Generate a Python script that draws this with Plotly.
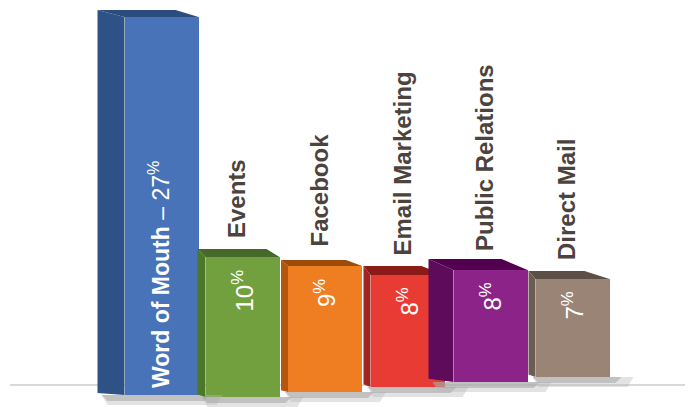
import plotly.graph_objects as go

# Marketing channel shares (%)
channels = ["Word of Mouth", "Events", "Facebook", "Email Marketing", "Public Relations", "Direct Mail"]
shares = [27, 10, 9, 8, 8, 7]

# Face colours per channel: front, side, top
front_colors = ["#4873b8", "#73a03f", "#ef7e22", "#e83b34", "#8b2388", "#998475"]
side_colors = ["#2e5186", "#4b772a", "#b5560f", "#a2241f", "#5f0b5b", "#6c5d52"]
top_colors = ["#2b4c7d", "#46692a", "#9c4b0b", "#8c1b17", "#52004f", "#5c4f46"]

# ---- drawing geometry (screen-like units) ----
W, H = 689, 407
PX = 14.0                       # pixels per percentage point
ZERO_PX = 385                   # baseline pixel row
centers = [161.5, 242.5, 325, 407.5, 490.5, 572.5]
bar_w = 74
bottom_px = [395, 397, 392, 387, 382, 377]
depth_l = [27, 8, 7, 7, 25, 7]      # back-left horizontal offset
depth_r = [23, 13, 16, 23, 26, 25]  # back-right horizontal offset
depth_up = [7, 8, 6, 9, 11, 8]      # vertical rise of the back edge

bases = [(ZERO_PX - b) / PX for b in bottom_px]
tops = [b + v for b, v in zip(bases, shares)]

fig = go.Figure()

# front faces
fig.add_trace(go.Bar(
    x=centers, y=shares, base=bases, width=bar_w,
    marker=dict(color=front_colors, line=dict(width=0)),
    hoverinfo="skip", showlegend=False,
))

for i in range(len(shares)):
    xl = centers[i] - bar_w / 2
    xr = centers[i] + bar_w / 2
    t, b = tops[i], bases[i]
    up = depth_up[i] / PX
    # soft floor shadow
    for spread, drop, col in [(24, 10, "rgba(185,185,185,0.4)"), (12, 6, "rgba(160,160,160,0.5)")]:
        fig.add_trace(go.Scatter(
            x=[xl - depth_l[i] + 4, xr + spread, xr + spread - 6, xl - depth_l[i] + 10],
            y=[b, b, b - drop / PX, b - drop / PX],
            fill="toself", fillcolor=col, mode="lines", line=dict(width=0),
            hoverinfo="skip", showlegend=False,
        ))
    # left side face
    fig.add_trace(go.Scatter(
        x=[xl, xl - depth_l[i], xl - depth_l[i], xl],
        y=[t, t + up, b + up * 0.3, b],
        fill="toself", fillcolor=side_colors[i], mode="lines", line=dict(width=0),
        hoverinfo="skip", showlegend=False,
    ))
    # top face
    fig.add_trace(go.Scatter(
        x=[xl, xr, xr - depth_r[i], xl - depth_l[i]],
        y=[t, t, t + up, t + up],
        fill="toself", fillcolor=top_colors[i], mode="lines", line=dict(width=0),
        hoverinfo="skip", showlegend=False,
    ))

annotations = []
# leading channel: label inside its bar
annotations.append(dict(
    x=centers[0] - 3, y=bases[0] + 5 / PX, xref="x", yref="y",
    text="<b>%s</b> – %d<sup>%%</sup>" % (channels[0], shares[0]),
    textangle=-90, xanchor="center", yanchor="bottom", showarrow=False,
    font=dict(family="Liberation Sans, Arial, sans-serif", size=23, color="white"),
))
for i in range(1, len(shares)):
    # channel name above the bar
    annotations.append(dict(
        x=centers[i] - 6, y=tops[i] + 17 / PX, xref="x", yref="y",
        text="<b>%s</b>" % channels[i], textangle=-90,
        xanchor="center", yanchor="bottom", showarrow=False,
        font=dict(family="Liberation Sans, Arial, sans-serif", size=24, color="#4c433d"),
    ))
    # value inside the bar near its top
    annotations.append(dict(
        x=centers[i], y=tops[i] - 11 / PX, xref="x", yref="y",
        text="%d<sup>%%</sup>" % shares[i], textangle=-90,
        xanchor="center", yanchor="top", showarrow=False,
        font=dict(family="Liberation Sans, Arial, sans-serif", size=24, color="white"),
    ))

fig.update_layout(
    width=W, height=H, margin=dict(l=0, r=0, t=0, b=0),
    paper_bgcolor="white", plot_bgcolor="white",
    xaxis=dict(range=[0, W], visible=False, fixedrange=True),
    yaxis=dict(range=[-(H - ZERO_PX) / PX, ZERO_PX / PX], visible=False, fixedrange=True),
    annotations=annotations,
    shapes=[dict(type="line", xref="x", yref="y", x0=10, x1=685, y0=0, y1=0,
                 line=dict(color="#b3b3b3", width=1.2), layer="below")],
    bargap=0,
)

fig.write_html("out.html")
